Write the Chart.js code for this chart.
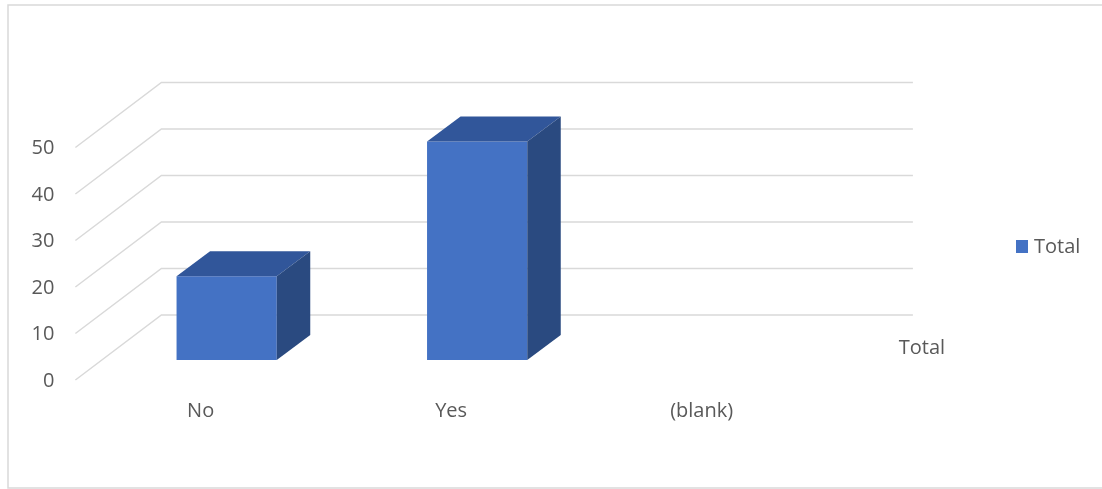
<!DOCTYPE html>
<html><head><meta charset="utf-8">
<script src="https://cdn.jsdelivr.net/npm/chart.js@4/dist/chart.umd.min.js"></script>
<style>html,body{margin:0;padding:0;background:#fff;overflow:hidden}#wrap{width:1102px;height:489px;position:relative}</style>
</head><body><div id="wrap"><canvas id="c" width="1102" height="489"></canvas></div>
<script>
const categories = ['No', 'Yes', '(blank)'];
const seriesName = 'Total';
const totals = [18, 47, null];
const yTicks = [0, 10, 20, 30, 40, 50];
const depthLabel = 'Total';

const FONT = '"Open Sans", "Noto Sans", sans-serif';
const TEXT = '#595959';
const GRID = '#d9d9d9';
const FRONT = '#4472c4', TOP = '#31569a', SIDE = '#2a4a80';
const barDepth = {x: 33.5, y: -25};
const frontOff = {x: -26, y: 20};
const backOff = {x: 60, y: -45};

const threeD = {
  id: 'threeD',
  beforeDatasetsDraw(chart) {
    const ctx = chart.ctx, xs = chart.scales.x, ys = chart.scales.y, ca = chart.chartArea;
    ctx.save();
    // outer border
    ctx.strokeStyle = GRID; ctx.lineWidth = 1.5;
    ctx.strokeRect(8, 5, 1110, 483);
    // gridlines (front diagonal + back wall)
    ctx.lineWidth = 1.5; ctx.strokeStyle = GRID;
    yTicks.forEach(v => {
      const y = ys.getPixelForValue(v);
      ctx.beginPath();
      ctx.moveTo(ca.left + frontOff.x, y + frontOff.y);
      ctx.lineTo(ca.left + backOff.x, y + backOff.y);
      ctx.lineTo(ca.right + backOff.x, y + backOff.y);
      ctx.stroke();
    });
    // tick labels
    ctx.fillStyle = TEXT; ctx.font = '20px ' + FONT;
    ctx.textAlign = 'right'; ctx.textBaseline = 'middle';
    yTicks.forEach(v => {
      ctx.fillText(String(v), ca.left + frontOff.x - 21, ys.getPixelForValue(v) + frontOff.y + 1);
    });
    // category labels
    ctx.textAlign = 'center';
    const y0 = ys.getPixelForValue(0) + frontOff.y;
    categories.forEach((c, i) => {
      ctx.fillText(c, xs.getPixelForValue(i) + frontOff.x, y0 + 31);
    });
    // depth axis label
    ctx.fillText(depthLabel, (ca.right + frontOff.x + ca.right + backOff.x) / 2 + 52, (y0 + ys.getPixelForValue(0) + backOff.y) / 2 + 1);
    // legend
    ctx.fillStyle = FRONT;
    ctx.fillRect(1016, 240, 12, 13);
    ctx.fillStyle = TEXT; ctx.textAlign = 'left';
    ctx.fillText(seriesName, 1034, 247);
    ctx.restore();
  },
  afterDatasetsDraw(chart) {
    const ctx = chart.ctx;
    const meta = chart.getDatasetMeta(0);
    ctx.save();
    meta.data.forEach((bar, i) => {
      if (totals[i] == null) return;
      const p = bar.getProps(['x', 'y', 'base', 'width'], true);
      const l = p.x - p.width / 2, r = p.x + p.width / 2;
      const dx = barDepth.x, dy = barDepth.y;
      ctx.fillStyle = TOP;
      ctx.beginPath();
      ctx.moveTo(l, p.y); ctx.lineTo(r, p.y); ctx.lineTo(r + dx, p.y + dy); ctx.lineTo(l + dx, p.y + dy);
      ctx.closePath(); ctx.fill();
      ctx.fillStyle = SIDE;
      ctx.beginPath();
      ctx.moveTo(r, p.y); ctx.lineTo(r + dx, p.y + dy); ctx.lineTo(r + dx, p.base + dy); ctx.lineTo(r, p.base);
      ctx.closePath(); ctx.fill();
    });
    ctx.restore();
  }
};

new Chart(document.getElementById('c'), {
  type: 'bar',
  data: {
    labels: categories,
    datasets: [{
      label: seriesName,
      data: totals,
      backgroundColor: FRONT,
      borderWidth: 0,
      barPercentage: 0.4,
      categoryPercentage: 1.0
    }]
  },
  options: {
    responsive: false,
    devicePixelRatio: 1,
    animation: false,
    layout: {padding: {left: 101.4, right: 249.1, top: 127.5, bottom: 129}},
    plugins: {legend: {display: false}, tooltip: {enabled: false}},
    scales: {
      x: {display: false, offset: true},
      y: {display: false, min: 0, max: 50}
    }
  },
  plugins: [threeD]
});
</script></body></html>
